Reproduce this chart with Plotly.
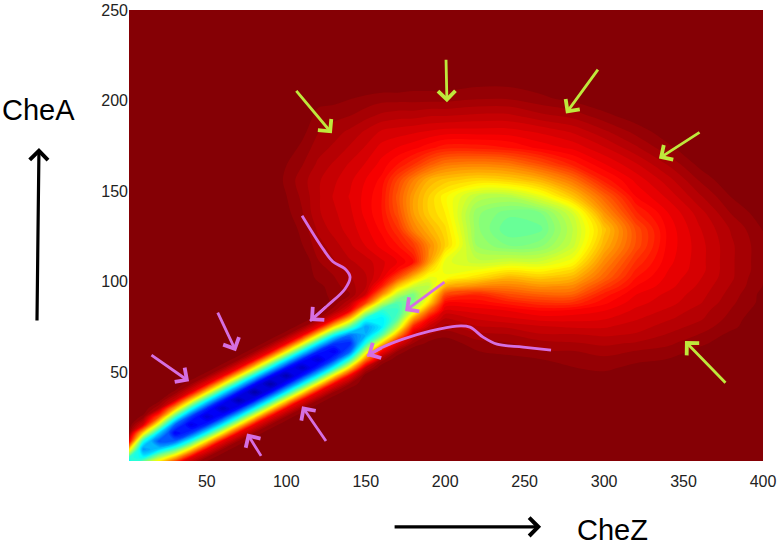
import plotly.graph_objects as go

# grid, colour position 0 (dark blue) .. 100 (dark red)
che_z = [1, 10, 20, 30, 40, 50, 60, 70, 80, 90, 100, 110, 120, 130, 140, 150, 160, 170, 180, 190, 200,
         220, 240, 260, 280, 300, 320, 340, 360, 380, 400]
che_a = [-6, -1.5, 3, 7.5, 12, 16.5, 21, 25.5, 30, 34.5, 39, 43.5, 48, 52.5, 57, 61.5, 66, 70.5, 75, 79.5,
         84, 88.5, 93, 97.5, 102, 106.5, 111, 120, 129, 138, 147, 156, 165, 174, 183, 192, 201, 210, 219, 255]

z_rows = [
    [30, 75, 92, 98] + [100] * 27,
    [30, 58, 75, 92, 97] + [100] * 26,
    [42, 38, 55, 70, 90, 97] + [100] * 25,
    [66, 27, 33, 45, 66, 89, 97] + [100] * 24,
    [90, 40, 20, 22, 40, 65, 89, 97] + [100] * 23,
    [98, 66, 33, 12, 18, 38, 64, 89, 97] + [100] * 22,
    [100, 91, 57, 22, 10, 16, 37, 64, 89, 97] + [100] * 21,
    [100, 98, 80, 45, 18, 8, 15, 37, 64, 89, 97] + [100] * 20,
    [100, 100, 95, 70, 40, 16, 6, 14, 37, 64, 89, 97] + [100] * 19,
    [100, 100, 99, 92, 66, 38, 15, 4, 13, 37, 64, 89, 97] + [100] * 18,
    [100, 100, 100, 98, 90, 65, 37, 14, 3, 13, 37, 64, 89, 97] + [100] * 17,
    [100] * 4 + [97, 89, 64, 37, 13, 3, 14, 37, 64, 89, 97] + [100] * 16,
    [100] * 5 + [97, 89, 64, 37, 13, 4, 15, 37, 65, 89] + [100] * 8 + [99.5, 99, 99, 99.5, 100, 100, 100, 100],
    [100] * 6 + [97, 89, 64, 37, 14, 6, 16, 38, 66, 94] + [100] * 6 + [99.5, 99, 98.5, 98, 99, 99.5, 100, 100, 100],
    [100] * 7 + [97, 89, 64, 37, 15, 8, 18, 42, 76, 96, 100, 100, 100, 100, 99.5, 99, 98.5, 98, 97.5, 98, 98.5, 99.5, 100, 100],
    [100] * 8 + [97, 89, 64, 37, 16, 11, 22, 58, 88, 97, 100, 100, 100, 98.5, 98, 97, 97, 96, 97, 97.5, 99, 100, 100],
    [100] * 9 + [97, 89, 64, 37, 18, 16, 40, 66, 90, 97, 99, 99.5, 97.5, 97, 96, 95.5, 95, 95.5, 96.5, 98, 99.5, 100],
    [100] * 10 + [97, 89, 64, 38, 24, 30, 46, 72, 93, 97, 98, 96, 95.5, 94, 94, 93.5, 94, 95.5, 97, 99, 100],
    [100] * 11 + [97, 89, 65, 46, 28, 36, 56, 85, 93, 96, 94, 93.5, 92.5, 92, 92, 93, 94.5, 96, 98, 100],
    [100] * 12 + [97, 89, 68, 40, 36, 46, 72, 88, 94, 92, 91, 90, 90, 90.5, 92, 93.5, 95, 97.5, 100],
    [100] * 12 + [99, 96, 89, 60, 42, 43, 58, 78, 91, 90, 89, 87.5, 88, 89, 91, 92.5, 94.5, 97, 99.5],
    [100] * 12 + [99.5, 98, 94, 82, 58, 46, 50, 66, 87, 87, 85, 83, 83, 87, 90, 91.5, 93.5, 96.5, 99],
    [100] * 12 + [99, 98, 97, 92, 74, 56, 50, 60, 80, 84, 80, 78, 78, 85, 89, 91, 93, 96, 99],
    [100] * 12 + [99, 97.5, 96, 94, 85, 68, 58, 56, 70, 74, 75, 73, 74, 81.5, 87.5, 90, 92.5, 95.5, 98.5],
    [100] * 12 + [98, 97, 95.5, 94, 90, 80, 68, 60, 62, 66, 70, 68, 70, 78, 86, 89.5, 92, 95, 98.5],
    [100] * 12 + [97.5, 96.5, 95, 93.5, 91, 87, 78, 66, 60, 61, 64, 63, 66, 76, 84.5, 89, 91.5, 95, 98],
    [100] * 12 + [97, 95.5, 94, 93, 91, 89, 86, 72, 60, 57, 58, 58, 62, 74, 83, 88.5, 91.5, 95, 98],
    [100] * 11 + [98.5, 96, 94.5, 92.5, 90.5, 88.5, 86, 82, 74, 67, 53, 50, 51, 57, 70, 80, 88, 91.5, 95, 98],
    [100] * 10 + [99.5, 98, 95, 93, 91.5, 89.5, 87, 83, 75, 70, 66, 52, 47, 48, 56, 68, 80, 88, 92, 95.5, 98.5],
    [100] * 10 + [99, 97, 94, 92.5, 91, 88.5, 86, 80, 72, 67, 64, 52, 49, 50, 58, 73, 84, 89, 93, 97, 99.5],
    [100] * 10 + [98.5, 96.5, 94, 92, 90.5, 88.5, 86, 79, 72, 67, 63, 56, 55, 60, 68, 78, 87.5, 91, 95, 98.5, 100],
    [100] * 10 + [98, 96, 94, 92.5, 91, 89, 87, 81, 75, 70, 68, 66, 67, 70, 76, 85, 89.5, 93, 97, 100, 100],
    [100] * 10 + [98.5, 97, 95, 93.5, 92, 90.5, 88.5, 86, 83, 79, 76, 75, 76, 80, 85, 89, 92, 95.5, 99, 100, 100],
    [100] * 10 + [99.5, 98, 96, 95, 93.5, 92, 90, 89, 88, 86.5, 85, 85, 86, 88, 89.5, 92, 95, 98, 100, 100, 100],
    [100] * 11 + [99, 97, 96, 95, 93.5, 92, 91.5, 91, 90.5, 90, 90, 90, 91, 92.5, 95, 97.5, 99.5, 100, 100, 100],
    [100] * 11 + [99.5, 98, 97.5, 97, 96, 95, 94.5, 94.5, 94, 94, 93.5, 93.5, 95, 96, 98, 99.5, 100, 100, 100, 100],
    [100] * 12 + [99, 99, 98.5, 98, 97.5, 97.5, 97.5, 97.5, 97.5, 97, 97, 98, 99, 100, 100, 100, 100, 100, 100],
    [100] * 18 + [99.5, 99.5, 99.5, 99, 99, 99.5, 100, 100, 100, 100, 100, 100, 100],
    [100] * 31,
    [100] * 31,
]

x_ticks = [50, 100, 150, 200, 250, 300, 350, 400]
y_ticks = [50, 100, 150, 200, 250]

# arrows as (tail x, tail y, tip x, tip y)
yellow_arrows = [(105.5, 206.2, 128.7, 181.9), (200.5, 223.4, 201.1, 199), (296.8, 217.9, 276, 192.9),
                 (361, 183, 334.5, 168), (377.3, 43.4, 350.9, 67.2)]
pink_arrows = [(14.2, 60, 38.8, 45), (56.4, 83.8, 68.3, 61.6), (84.7, 3, 75.3, 16.2),
               (125.6, 11.2, 109.9, 31.2), (200.5, 100.4, 174.7, 83.8)]
curve1_x = [109.9, 123.1, 129.4, 136.9, 140.1, 136.9, 125.6, 114.9]
curve1_y = [136.4, 118.1, 111, 107.1, 102.6, 96, 86.6, 78.3]
curve2_x = [266.6, 249, 232.6, 223.8, 215.6, 207.4, 190.4, 173.4, 160.8, 150.8]
curve2_y = [62.2, 63.9, 65.5, 69.4, 74.9, 75.5, 72.7, 68.3, 63.9, 59]

YELLOW = "#bfe83c"
PINK = "#d56fe2"

jet = [[0, "rgb(0,0,140)"], [0.125, "rgb(0,0,255)"], [0.375, "rgb(0,255,255)"],
       [0.625, "rgb(255,255,0)"], [0.875, "rgb(255,0,0)"], [1, "rgb(125,0,5)"]]

fig = go.Figure()
fig.add_trace(go.Contour(x=che_z, y=che_a, z=z_rows, colorscale=jet, zmin=0, zmax=100, showscale=False,
                         autocontour=False,
                         contours=dict(start=0, end=100, size=1.5625, coloring="fill", showlines=False),
                         line=dict(width=0, smoothing=1), hoverinfo="skip"))

for cx, cy in [(curve1_x, curve1_y), (curve2_x, curve2_y)]:
    fig.add_trace(go.Scatter(x=cx, y=cy, mode="lines", line=dict(color=PINK, width=2.8, shape="spline"),
                             showlegend=False, hoverinfo="skip"))


def arrow(tail_x, tail_y, tip_x, tip_y, color):
    fig.add_annotation(x=tip_x, y=tip_y, ax=tail_x, ay=tail_y, xref="x", yref="y", axref="x", ayref="y",
                       text="", showarrow=True, arrowhead=4, arrowsize=1.2, arrowwidth=2.8, arrowcolor=color,
                       standoff=0)


for a in yellow_arrows:
    arrow(*a, YELLOW)
for a in pink_arrows:
    arrow(*a, PINK)
arrow(curve1_x[-2], curve1_y[-2], curve1_x[-1], curve1_y[-1], PINK)
arrow(curve2_x[-2], curve2_y[-2], curve2_x[-1], curve2_y[-1], PINK)

# black arrows and names outside the axes
fig.add_annotation(x=-0.142, y=0.694, xref="paper", yref="paper", ax=-2, ay=174, text="", showarrow=True,
                   arrowhead=4, arrowsize=1.1, arrowwidth=3.2, arrowcolor="black", standoff=0)
fig.add_annotation(x=0.65, y=-0.146, xref="paper", yref="paper", ax=-148, ay=0, text="", showarrow=True,
                   arrowhead=4, arrowsize=1.1, arrowwidth=3.2, arrowcolor="black", standoff=0)
fig.add_annotation(x=-0.142, y=0.778, xref="paper", yref="paper", xanchor="center", yanchor="middle",
                   text="CheA", showarrow=False, font=dict(size=29, color="black"))
fig.add_annotation(x=0.762, y=-0.153, xref="paper", yref="paper", xanchor="center", yanchor="middle",
                   text="CheZ", showarrow=False, font=dict(size=29, color="black"))

fig.update_layout(width=783, height=549, margin=dict(l=129, r=20, t=10, b=88), paper_bgcolor="white",
                  plot_bgcolor="white", showlegend=False,
                  font=dict(family="Liberation Sans", size=16, color="#222222"))
fig.update_xaxes(range=[1, 400], tickvals=x_ticks, ticks="outside", ticklen=6, tickcolor="rgba(0,0,0,0)",
                 showgrid=False, zeroline=False, showline=False, automargin=False)
fig.update_yaxes(range=[1, 250], tickvals=y_ticks, ticks="", showgrid=False, zeroline=False, showline=False,
                 automargin=False)

# page margin off so the figure sits at the window corner
fig.write_html("out.html", config={"displayModeBar": False}, post_script="document.body.style.margin='0';")
